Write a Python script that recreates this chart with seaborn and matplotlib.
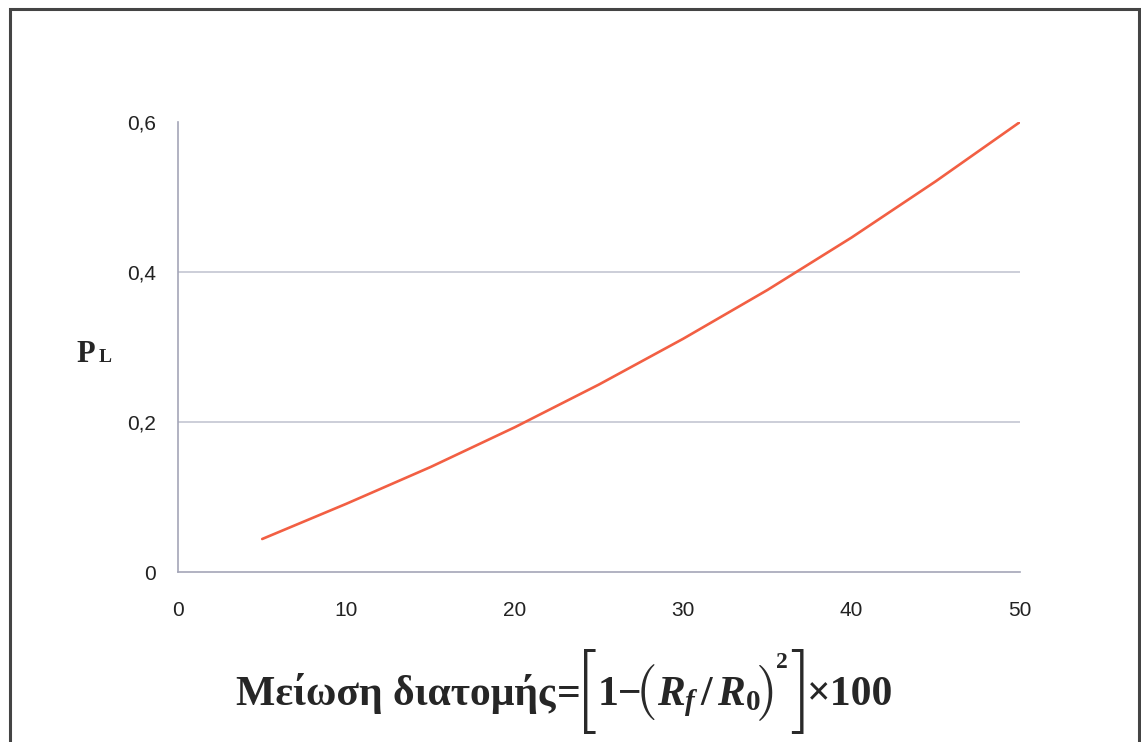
import matplotlib
matplotlib.use("Agg")
import matplotlib.pyplot as plt
import seaborn as sns
import pandas as pd
from matplotlib.patches import Rectangle

# Data
reduction = [5, 10, 15, 20, 25, 30, 35, 40, 45, 50]
pl_values = [0.044, 0.091, 0.140, 0.193, 0.250, 0.311, 0.376, 0.446, 0.521, 0.600]
x_ticks = [0, 10, 20, 30, 40, 50]
y_ticks = [0, 0.2, 0.4, 0.6]
y_tick_labels = ["0", "0,2", "0,4", "0,6"]

sns.set_style("white")
plt.rcParams["font.family"] = ["Liberation Sans", "DejaVu Sans"]
plt.rcParams["mathtext.fontset"] = "custom"
plt.rcParams["mathtext.rm"] = "Liberation Serif:bold"
plt.rcParams["mathtext.it"] = "Liberation Serif:bold:italic"
plt.rcParams["mathtext.bf"] = "Liberation Serif:bold"

df = pd.DataFrame({"x": reduction, "y": pl_values})

W, H = 1141, 742
fig = plt.figure(figsize=(W / 100, H / 100), dpi=100)
ax = fig.add_axes([178 / W, 1 - 572 / H, (1020 - 178) / W, (572 - 122) / H])

sns.lineplot(data=df, x="x", y="y", ax=ax, color="#f25f43", linewidth=1.9)

ax.set_xlim(0, 50)
ax.set_ylim(0, 0.6)
ax.set_xticks(x_ticks)
ax.set_xticklabels([str(v) for v in x_ticks], fontsize=15, color="#222222")
ax.set_yticks(y_ticks)
ax.set_yticklabels(y_tick_labels, fontsize=15, color="#222222")
ax.set_xlabel("")
ax.set_ylabel("")

for s in ["top", "right"]:
    ax.spines[s].set_visible(False)
for s in ["left", "bottom"]:
    ax.spines[s].set_color("#a4a6b8")
    ax.spines[s].set_linewidth(1.2)
ax.tick_params(axis="x", direction="out", length=5, width=1.2, color="#a4a6b8", pad=16)
ax.tick_params(axis="y", direction="out", length=7, width=1.2, color="#a4a6b8", pad=9)

ax.yaxis.grid(True, color="#c4c6d2", linewidth=1.2)
ax.set_axisbelow(True)
gl = ax.yaxis.get_gridlines()
gl[0].set_visible(False)
gl[-1].set_visible(False)


def px(x, y):
    return x / W, 1 - y / H


serif = ["Liberation Serif", "DejaVu Serif"]

# y-axis title: P with small-cap L
fig.text(*px(76, 362), "P", fontsize=22, fontweight="bold", family=serif,
         ha="left", va="baseline")
fig.text(*px(99, 362), "L", fontsize=14, fontweight="bold", family=serif,
         ha="left", va="baseline")

# x-axis title, composed piece by piece
base = 705
fig.text(*px(555, base), "Μείωση διατομής", fontsize=30, fontweight="bold",
         family=serif, ha="right", va="baseline")
fig.text(*px(557, base), "=", fontsize=30, fontweight="bold", family=serif,
         ha="left", va="baseline")
fig.text(*px(574, 692), "[", fontsize=61, family="cmr10", color="#2a2a2a",
         ha="left", va="center")
fig.text(*px(598, base), "1−", fontsize=30, fontweight="bold", family=serif,
         ha="left", va="baseline")
fig.text(*px(636, 692), "(", fontsize=40, family="cmr10", color="#2a2a2a",
         ha="left", va="center")
fig.text(*px(657, base), r"$R_f\,/\,R_0$", fontsize=30, ha="left", va="baseline")
fig.text(*px(756, 692), ")", fontsize=40, family="cmr10", color="#2a2a2a",
         ha="left", va="center")
fig.text(*px(776, 668), "2", fontsize=17, fontweight="bold", family=serif,
         ha="left", va="baseline")
fig.text(*px(789, 692), "]", fontsize=61, family="cmr10", color="#2a2a2a",
         ha="left", va="center")
fig.text(*px(807, base), "×100", fontsize=30, fontweight="bold", family=serif,
         ha="left", va="baseline")

# Figure frame
fig.patches.append(Rectangle((10 / W, -0.05), (1139 - 10) / W, 1.05 - 9 / H,
                             transform=fig.transFigure, fill=False,
                             edgecolor="#444444", linewidth=2.2))

fig.savefig("out.png", dpi=100, facecolor="white")
